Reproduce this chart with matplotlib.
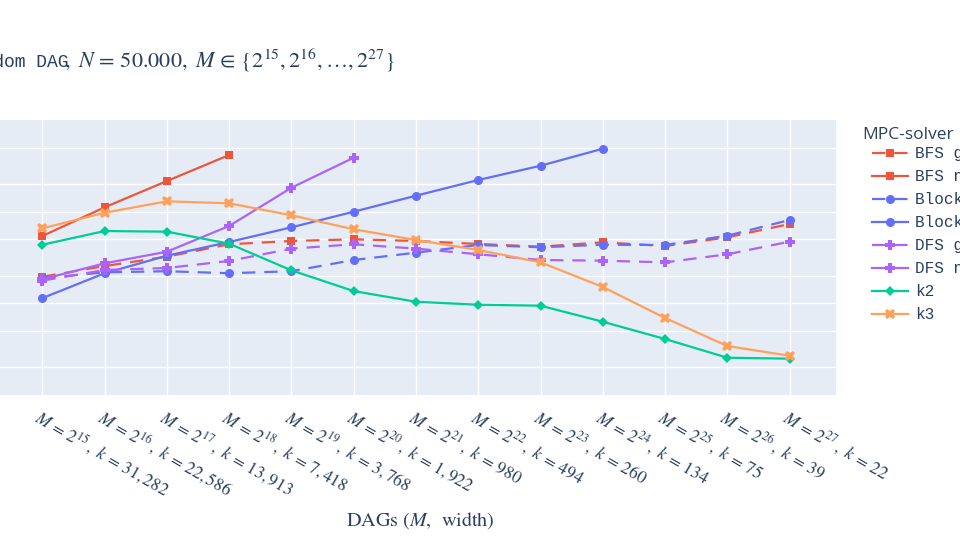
import matplotlib
matplotlib.use('Agg')
import matplotlib.pyplot as plt

plt.rcParams['mathtext.fontset'] = 'stix'

# DAGs: M = 2^15 .. 2^27 with resulting width k
exps = list(range(15, 28))
widths = ['31,282', '22,586', '13,913', '7,418', '3,768', '1,922', '980',
          '494', '260', '134', '75', '39', '22']
labels = [r'$M\,=\,2^{%d}\,,\ k\,=\,%s$' % (e, w) for e, w in zip(exps, widths)]

# running times
bfs_greedy = [0.195, 0.255, 0.323, 0.441, 0.479, 0.499, 0.479, 0.444, 0.415,
              0.463, 0.422, 0.525, 0.734]
bfs_naive = [0.543, 1.116, 2.16, 4.15]
block_greedy = [0.188, 0.218, 0.224, 0.213, 0.224, 0.297, 0.357, 0.433, 0.409,
                0.436, 0.433, 0.547, 0.811]
block_naive = [0.114, 0.213, 0.331, 0.467, 0.675, 0.999, 1.494, 2.215, 3.17, 4.86]
dfs_greedy = [0.177, 0.231, 0.243, 0.290, 0.395, 0.441, 0.395, 0.343, 0.297,
              0.292, 0.280, 0.343, 0.471]
dfs_naive = [0.183, 0.273, 0.366, 0.698, 1.826, 3.88]
k2 = [0.436, 0.615, 0.605, 0.447, 0.229, 0.136, 0.104, 0.0966, 0.0942, 0.063,
      0.0408, 0.0255, 0.0249]
k3 = [0.658, 0.974, 1.297, 1.234, 0.913, 0.642, 0.491, 0.382, 0.280, 0.151,
      0.0692, 0.0342, 0.0268]

names = ['BFS greedy', 'BFS naive', 'Block greedy', 'Block naive',
         'DFS greedy', 'DFS naive', 'k2', 'k3']
data = [bfs_greedy, bfs_naive, block_greedy, block_naive,
        dfs_greedy, dfs_naive, k2, k3]
colors = ['#EF553B', '#EF553B', '#636EFA', '#636EFA',
          '#AB63FA', '#AB63FA', '#00CC96', '#FFA15A']
markers = ['s', 's', 'o', 'o', 'P', 'P', 'D', 'X']
dashed = [True, False, True, False, True, False, False, False]
msizes = [6, 6, 6.5, 6.5, 7.5, 7.5, 5.5, 7.5]

fig = plt.figure(figsize=(9.6, 5.4), dpi=100)
ax = fig.add_axes([-4 / 960, 145 / 540, 840 / 960, 275 / 540])
ax.set_facecolor('#E5ECF6')

handles = []
for name, vals, c, m, d, ms in zip(names, data, colors, markers, dashed, msizes):
    line, = ax.plot(range(len(vals)), vals, color=c, marker=m, markersize=ms,
                    linewidth=1.6, markeredgewidth=0, label=name)
    if d:
        line.set_dashes((6, 4))
    handles.append(line)

ax.set_yscale('log')
ax.set_ylim(0.01, 10)
ax.set_xlim(-0.745, 12.745)
ax.set_yticks([0.02, 0.05, 0.1, 0.2, 0.5, 1, 2, 5])
ax.minorticks_off()
ax.set_xticks(range(len(labels)))
ax.set_xticklabels(labels, rotation=-30, ha='left', va='top',
                   rotation_mode='anchor', fontsize=12.5, color='#2a3f5f')
ax.tick_params(axis='x', length=0, pad=8)
ax.tick_params(axis='y', length=0, labelleft=False)
ax.grid(color='white', linewidth=1)
ax.set_axisbelow(True)
for s in ax.spines.values():
    s.set_visible(False)

fig.text(420 / 960, 1 - 521 / 540, r'DAGs ($M$,  width)', ha='center',
         va='center', fontsize=14.5, family='STIXGeneral', color='#2a3f5f')

# title: typewriter part and math part, sharing one baseline
title_y = 1 - 67 / 540
fig.text(-39 / 960, title_y, 'Random DAG', ha='left', va='baseline',
         family='Liberation Mono', fontsize=13, color='#2a3f5f')
fig.text(64 / 960, title_y,
         r'$,\ N\,=\,50.000,\ M\,\in\,\{2^{15}, 2^{16}, \ldots, 2^{27}\}$',
         ha='left', va='baseline', fontsize=16, color='#2a3f5f')

# legend title drawn on its own so it can sit left of the handles
fig.text(862 / 960, 1 - 135 / 540, 'MPC-solver', ha='left', va='center',
         family='Open Sans', fontsize=12.5, color='#2a3f5f')
leg = fig.legend(handles, names, loc='upper left',
                 bbox_to_anchor=(866 / 960, 1 - 140 / 540), frameon=False,
                 prop={'family': 'Liberation Mono', 'size': 11.5},
                 handlelength=2.2, labelspacing=0.5, handletextpad=0.45,
                 borderaxespad=0)
for t in leg.get_texts():
    t.set_color('#2a3f5f')

fig.savefig('out.png', dpi=100)
